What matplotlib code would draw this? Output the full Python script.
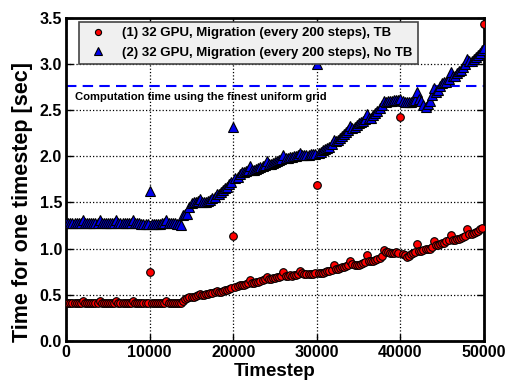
import numpy as np
import matplotlib
matplotlib.use('Agg')
import matplotlib.pyplot as plt

# --- Global Plot Settings ---
plt.rcParams.update({'font.family': ['Liberation Sans', 'DejaVu Sans'],
                     'font.weight': 'bold',
                     'axes.labelweight': 'bold'})

# --- Data Definition ---
timesteps = np.arange(0, 50001, 250)

# (1) with TB
time_tb = [
    # 0 - 13750
    0.41, 0.41, 0.41, 0.41, 0.41, 0.41, 0.41, 0.41, 0.43, 0.41,
    0.41, 0.41, 0.41, 0.41, 0.41, 0.41, 0.43, 0.41, 0.41, 0.41,
    0.41, 0.41, 0.41, 0.41, 0.43, 0.41, 0.41, 0.41, 0.41, 0.41,
    0.41, 0.41, 0.43, 0.41, 0.41, 0.41, 0.41, 0.41, 0.41, 0.41,
    0.75, 0.41, 0.41, 0.41, 0.41, 0.41, 0.41, 0.41, 0.43, 0.41,
    0.41, 0.41, 0.41, 0.41, 0.41, 0.41,
    # 14000 - 50000
    0.43, 0.45, 0.46, 0.47, 0.48, 0.48, 0.49, 0.50, 0.51, 0.50,
    0.50, 0.51, 0.51, 0.52, 0.52, 0.53, 0.54, 0.53, 0.53, 0.54,
    0.55, 0.55, 0.56, 0.57, 1.14, 0.58, 0.59, 0.60, 0.60, 0.61,
    0.62, 0.63, 0.66, 0.63, 0.63, 0.64, 0.64, 0.65, 0.66, 0.67,
    0.69, 0.67, 0.67, 0.68, 0.68, 0.69, 0.69, 0.70, 0.75, 0.70,
    0.70, 0.71, 0.70, 0.71, 0.71, 0.72, 0.76, 0.73, 0.72, 0.72,
    0.72, 0.72, 0.72, 0.73, 1.69, 0.73, 0.74, 0.74, 0.75, 0.76,
    0.76, 0.77, 0.82, 0.78, 0.78, 0.79, 0.80, 0.80, 0.81, 0.82,
    0.86, 0.83, 0.82, 0.82, 0.82, 0.83, 0.84, 0.85, 0.93, 0.86,
    0.86, 0.87, 0.88, 0.89, 0.90, 0.92, 0.98, 0.96, 0.96, 0.95,
    0.95, 0.95, 0.96, 0.95, 2.43, 0.94, 0.93, 0.91, 0.92, 0.94,
    0.95, 0.96, 1.05, 0.97, 0.97, 0.98, 0.99, 0.99, 1.00, 1.02,
    1.08, 1.04, 1.04, 1.05, 1.06, 1.06, 1.08, 1.09, 1.15, 1.09,
    1.09, 1.10, 1.10, 1.11, 1.13, 1.14, 1.21, 1.16, 1.16, 1.17,
    1.18, 1.19, 1.21, 1.22, 3.43,
]

# (2) without TB
time_notb = [
    # 0 - 13750
    1.28, 1.28, 1.28, 1.28, 1.28, 1.28, 1.28, 1.28, 1.31, 1.28,
    1.28, 1.28, 1.28, 1.28, 1.28, 1.28, 1.31, 1.28, 1.28, 1.28,
    1.28, 1.28, 1.28, 1.28, 1.31, 1.28, 1.28, 1.28, 1.28, 1.28,
    1.28, 1.28, 1.31, 1.28, 1.28, 1.28, 1.27, 1.27, 1.27, 1.27,
    1.62, 1.27, 1.27, 1.27, 1.27, 1.27, 1.28, 1.28, 1.31, 1.28,
    1.28, 1.28, 1.28, 1.27, 1.27, 1.26,
    # 14000 - 50000
    1.36, 1.37, 1.38, 1.45, 1.49, 1.50, 1.51, 1.52, 1.54, 1.51,
    1.51, 1.51, 1.52, 1.53, 1.55, 1.56, 1.59, 1.59, 1.61, 1.63,
    1.66, 1.67, 1.70, 1.72, 2.32, 1.76, 1.78, 1.81, 1.83, 1.83,
    1.84, 1.85, 1.89, 1.85, 1.85, 1.86, 1.87, 1.88, 1.90, 1.91,
    1.95, 1.92, 1.92, 1.93, 1.94, 1.95, 1.96, 1.97, 2.01, 1.98,
    1.98, 1.99, 1.99, 2.00, 2.00, 2.01, 2.04, 2.01, 2.01, 2.01,
    2.01, 2.02, 2.02, 2.03, 3.00, 2.04, 2.05, 2.07, 2.08, 2.09,
    2.10, 2.13, 2.18, 2.17, 2.18, 2.20, 2.22, 2.24, 2.26, 2.28,
    2.33, 2.31, 2.32, 2.34, 2.36, 2.37, 2.38, 2.40, 2.46, 2.42,
    2.42, 2.45, 2.47, 2.49, 2.52, 2.56, 2.60, 2.59, 2.60, 2.60,
    2.60, 2.61, 2.61, 2.61, 2.62, 2.60, 2.59, 2.59, 2.59, 2.59,
    2.60, 2.61, 2.70, 2.62, 2.60, 2.56, 2.53, 2.57, 2.60, 2.66,
    2.74, 2.70, 2.72, 2.76, 2.79, 2.80, 2.81, 2.84, 2.91, 2.87,
    2.87, 2.90, 2.92, 2.94, 2.97, 3.00, 3.05, 3.03, 3.03, 3.05,
    3.08, 3.10, 3.12, 3.15, 3.17,
]

uniform_time = 2.76

# --- Initialize Figure and Axes ---
fig = plt.figure(figsize=(5.09, 3.80), dpi=100)
ax = fig.add_axes([0.130, 0.103, 0.821, 0.850])

ax.axhline(uniform_time, color='#0000ff', linestyle='--', dashes=(5, 3),
           linewidth=1.5, zorder=2)
ax.text(1000, uniform_time - 0.06, 'Computation time using the finest uniform grid',
        fontsize=8.1, fontweight='bold', va='top', ha='left')

ax.plot(timesteps, time_tb, 'o', color='#ff0000', markeredgecolor='black',
        markeredgewidth=0.8, markersize=5.5,
        label='(1) 32 GPU, Migration (every 200 steps), TB', zorder=3)
ax.plot(timesteps, time_notb, '^', color='#0000ee', markeredgecolor='black',
        markeredgewidth=0.8, markersize=6.5,
        label='(2) 32 GPU, Migration (every 200 steps), No TB', zorder=3)

# --- Axes Configuration ---
ax.set_xlim(0, 50000)
ax.set_ylim(0, 3.5)
ax.set_xticks(np.arange(0, 50001, 10000))
ax.set_yticks(np.arange(0, 3.51, 0.5))
ax.set_yticklabels(['%.1f' % v for v in np.arange(0, 3.51, 0.5)])
ax.set_xlabel('Timestep', fontsize=13.5, labelpad=2)
ax.set_ylabel('Time for one timestep [sec]', fontsize=15.5)
ax.yaxis.set_label_coords(-0.08, 0.43)
ax.tick_params(direction='in', top=True, right=True, length=5, width=1,
               labelsize=11.5, pad=3)
for sp in ax.spines.values():
    sp.set_linewidth(2)
ax.grid(True, linestyle=':', color='black', linewidth=0.9)
ax.set_axisbelow(True)

leg = ax.legend(loc='upper left', bbox_to_anchor=(0.031, 0.988), borderaxespad=0,
                frameon=True, fancybox=False, numpoints=1, markerscale=0.8,
                borderpad=0.4, labelspacing=0.55, handlelength=2.0,
                handletextpad=0.85, prop={'weight': 'bold', 'size': 9.5})
leg.get_frame().set_facecolor('#f0f0f0')
leg.get_frame().set_edgecolor('#444444')
leg.get_frame().set_linewidth(1.2)
leg.get_frame().set_alpha(1)

plt.savefig('out.png', dpi=100, facecolor='white')
